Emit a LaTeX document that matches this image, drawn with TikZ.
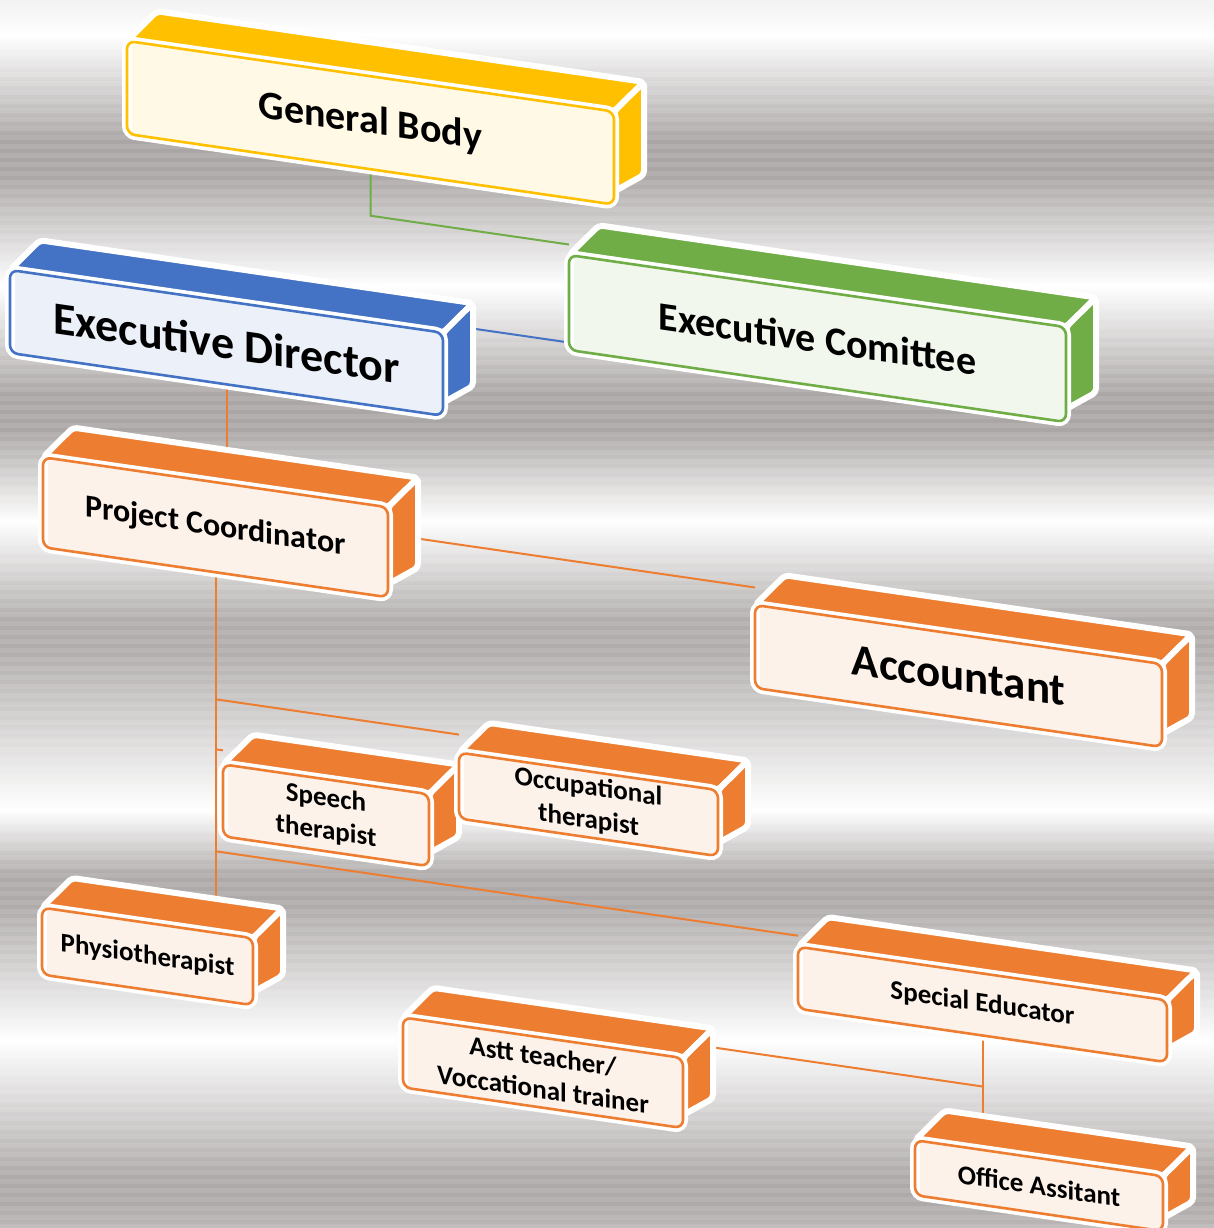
\documentclass[tikz,border=0pt]{standalone}
\usepackage{fontspec}
\setmainfont{Carlito}
\usetikzlibrary{calc, positioning}

\definecolor{gold}{HTML}{FFC000}
\definecolor{exblue}{HTML}{4472C4}
\definecolor{exgreen}{HTML}{70AD47}
\definecolor{staff}{HTML}{ED7D31}
\definecolor{mdark}{RGB}{170,166,165}

\pgfdeclarelayer{bg}
\pgfdeclarelayer{lines}
\pgfdeclarelayer{faces}
\pgfsetlayers{bg,lines,faces,main}

% brushed metal backdrop
\pgfdeclareverticalshading{metal}{100bp}{%
  color(0bp)=(white!20!mdark); color(25bp)=(white!20!mdark);
  color(25.94bp)=(white!5!mdark); color(27.15bp)=(white!5!mdark);
  color(32.65bp)=(white);
  color(38.15bp)=(white!5!mdark); color(39.37bp)=(white!5!mdark);
  color(42.02bp)=(white);
  color(48.53bp)=(white!8!mdark); color(49.76bp)=(white!8!mdark);
  color(53.79bp)=(white);
  color(57.49bp)=(mdark); color(58.92bp)=(mdark);
  color(63.36bp)=(white);
  color(67.87bp)=(mdark); color(69.30bp)=(mdark);
  color(73.57bp)=(white);
  color(75bp)=(white!85!mdark); color(100bp)=(white!85!mdark)}

\tikzset{
  orgbox/.style={draw=#1, fill=white, line width=1.3pt, rounded corners=4pt,
    preaction={draw=white, line width=5pt},
    path picture={\fill[#1!10] ([xshift=2.5pt,yshift=5pt]path picture bounding box.south west)
      rectangle ([yshift=-1.5pt]path picture bounding box.north east);},
    inner sep=0pt, outer sep=0pt, align=center},
  txt/.style={font=\bfseries\fontsize{#1}{#1}\selectfont},
  smalltxt/.style={font=\bfseries\fontsize{13.5}{16.5}\selectfont},
  link/.style={draw=#1, line width=1pt},
}

% top and side faces of a box
\newcommand{\cuboid}[2]{%
  \begin{pgfonlayer}{faces}
    \filldraw[#2, draw=white, line width=3pt, rounded corners=2pt, line join=round]
      (#1.north west) -- ++(30,34) -- ($(#1.north east)+(30,34)$) -- (#1.north east) -- cycle;
    \filldraw[#2, draw=white, line width=3pt, rounded corners=2pt, line join=round]
      (#1.north east) -- ++(30,34) -- ($(#1.south east)+(30,34)$) -- ($(#1.south east)+(0,13)$) -- cycle;
  \end{pgfonlayer}}

\begin{document}
\begin{tikzpicture}[x=0.5pt, y=0.5pt]
\useasboundingbox (0,0) rectangle (1214,-1228);

\begin{pgfonlayer}{bg}
  \shade[shading=metal] (0,0) rectangle (1214,-1228);
  \foreach \s in {0,9,...,1224}
    \fill[white, opacity=0.1] (0,-\s) rectangle (1214,-\s-4.5);
\end{pgfonlayer}

\begin{scope}[yslant=-0.145, transform shape]

% Boxes
\node[orgbox=gold, txt=20, minimum width=243.5pt, minimum height=46.5pt] (gb) at (370.5,-69) {General Body};
\cuboid{gb}{gold}
\node[orgbox=exgreen, txt=20, minimum width=248.5pt, minimum height=47.5pt] (ec) at (817.5,-220) {Executive Comittee};
\cuboid{ec}{exgreen}
\node[orgbox=exblue, txt=23, minimum width=216.5pt, minimum height=41.5pt] (ed) at (226.5,-310) {Executive Director};
\cuboid{ed}{exblue}
\node[orgbox=staff, txt=16, minimum width=172.5pt, minimum height=45pt] (pc) at (215.5,-496) {Project Coordinator};
\cuboid{pc}{staff}
\node[orgbox=staff, txt=22.5, minimum width=203.5pt, minimum height=41.5pt] (acc) at (958.5,-537) {Accountant};
\cuboid{acc}{staff}
\node[orgbox=staff, smalltxt, minimum width=103pt, minimum height=36pt] (speech) at (326,-768) {Speech\\therapist};
\cuboid{speech}{staff}
\node[orgbox=staff, smalltxt, minimum width=129.5pt, minimum height=33pt] (occ) at (588.5,-719) {Occupational\\therapist};
\cuboid{occ}{staff}
\node[orgbox=staff, smalltxt, minimum width=105.5pt, minimum height=33.5pt] (physio) at (147.5,-935) {Physiotherapist};
\cuboid{physio}{staff}
\node[orgbox=staff, smalltxt, minimum width=184.5pt, minimum height=31pt] (sped) at (982.5,-862) {Special Educator};
\cuboid{sped}{staff}
\node[orgbox=staff, smalltxt, minimum width=140pt, minimum height=35pt] (astt) at (543,-994) {Astt teacher/\\Voccational trainer};
\cuboid{astt}{staff}
\node[orgbox=staff, smalltxt, minimum width=124pt, minimum height=27.5pt] (office) at (1039,-1035) {Office Assitant};
\cuboid{office}{staff}

% Connectors
\coordinate (gbj) at (370.5,-162);
\coordinate (edj) at (0,-260);
\coordinate (pcj) at (0,-478);
\coordinate (t1) at (215.5,-668);
\coordinate (t2) at (215.5,-718);
\coordinate (t3) at (215.5,-820);
\coordinate (s1) at (982.5,-944);

\begin{pgfonlayer}{lines}
\draw[link=exgreen] (gb.south) -- (gbj) -- (gbj -| ec.west);
\draw[link=exblue] (ed.east |- edj) -- (ec.west |- edj);
\draw[link=staff] (ed.south) -- (ed.south |- pc.north);
\draw[link=staff] (pc.east |- pcj) -- (acc.west |- pcj);
\draw[link=staff] (pc.south) -- (pc.south |- physio.north);
\draw[link=staff] (t1) -- (t1 -| occ.west);
\draw[link=staff] (t2) -- (t2 -| speech.west);
\draw[link=staff] (t3) -- (t3 -| sped.west);
\draw[link=staff] (sped.south) -- (sped.south |- office.north);
\draw[link=staff] (s1) -- (s1 -| astt.east);
\end{pgfonlayer}

\end{scope}
\end{tikzpicture}
\end{document}
